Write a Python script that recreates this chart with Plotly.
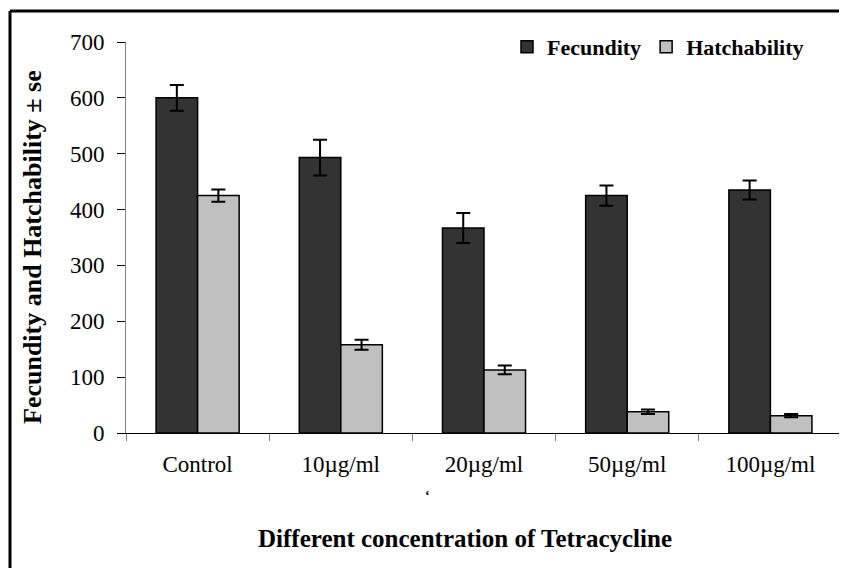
import plotly.graph_objects as go

categories = ["Control", "10µg/ml", "20µg/ml", "50µg/ml", "100µg/ml"]
fecundity = [600, 493, 367, 425, 435]
fecundity_se = [23, 32, 27, 18, 17]
hatchability = [425, 158, 113, 38, 31]
hatchability_se = [11, 9, 8, 4, 3]
y_ticks = [0, 100, 200, 300, 400, 500, 600, 700]

# page is offset by 8px body margin; work in page coordinates
OFF = 8
W, H = 847 - OFF, 568 - OFF
L, T = 126 - OFF, 42 - OFF
pw, ph = 716, 391
R = W - L - pw
B = H - T - ph

def px(x):
    return (x - OFF - L) / pw

def py(y):
    return (T + ph - (y - OFF)) / ph

serif = "Liberation Serif, Times New Roman, serif"

fig = go.Figure()
fig.add_trace(go.Bar(
    name="Fecundity", x=categories, y=fecundity,
    marker=dict(color="#333333", line=dict(color="black", width=1.5)),
    error_y=dict(type="data", array=fecundity_se, color="black", thickness=2, width=7),
))
fig.add_trace(go.Bar(
    name="Hatchability", x=categories, y=hatchability,
    marker=dict(color="#c0c0c0", line=dict(color="black", width=1.5)),
    error_y=dict(type="data", array=hatchability_se, color="black", thickness=2, width=7),
))

fig.update_layout(
    width=W, height=H,
    margin=dict(l=L, r=R, t=T, b=B),
    paper_bgcolor="white", plot_bgcolor="white",
    barmode="group", bargap=0.42, bargroupgap=0,
    font=dict(family=serif, color="black", size=22),
    showlegend=True,
    legend=dict(
        orientation="h", x=px(507), y=py(47), xanchor="left", yanchor="middle",
        font=dict(family=serif, size=22, color="black", weight="bold"),
        bgcolor="rgba(0,0,0,0)", tracegroupgap=0,
    ),
    xaxis=dict(
        type="category", showline=True, linecolor="black", linewidth=1,
        ticks="outside", ticklen=7, tickcolor="#808080", tickson="boundaries",
        tickfont=dict(family=serif, size=23), ticklabelstandoff=10,
        showgrid=False, zeroline=False,
    ),
    yaxis=dict(
        range=[0, 700], tickvals=y_ticks, showline=True, linecolor="#808080", linewidth=1,
        ticks="outside", ticklen=8, tickcolor="black",
        tickfont=dict(family=serif, size=23), ticklabelstandoff=8,
        showgrid=False, zeroline=False,
    ),
    annotations=[
        dict(text="<b>Fecundity and Hatchability ± se</b>", textangle=-90,
             xref="paper", yref="paper", x=px(32), y=py(426),
             xanchor="center", yanchor="bottom", showarrow=False,
             font=dict(family=serif, size=26)),
        dict(text="<b>Different concentration of Tetracycline</b>",
             xref="paper", yref="paper", x=px(465), y=py(538),
             xanchor="center", yanchor="middle", showarrow=False,
             font=dict(family=serif, size=25)),
        dict(text="<b>‘</b>", xref="paper", yref="paper", x=px(427), y=py(495),
             xanchor="center", yanchor="middle", showarrow=False,
             font=dict(family=serif, size=14)),
    ],
    shapes=[
        dict(type="line", xref="paper", yref="paper", x0=px(10), x1=px(860),
             y0=py(11), y1=py(11), line=dict(color="black", width=3)),
        dict(type="line", xref="paper", yref="paper", x0=px(10), x1=px(10),
             y0=py(11), y1=py(580), line=dict(color="black", width=3)),
    ],
)

fig.write_html("out.html")
